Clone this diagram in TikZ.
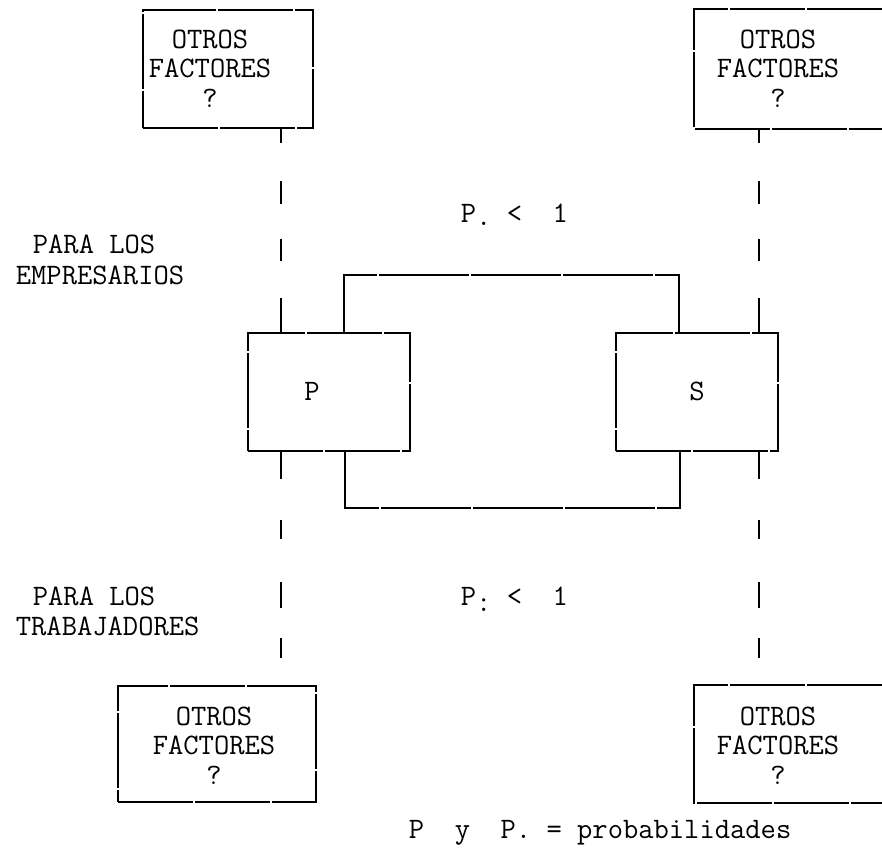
\documentclass[tikz,border=0pt]{standalone}
\usepackage{fontspec}
\begin{document}
\begin{tikzpicture}[x=1pt,y=-1pt,line width=1.8pt,
  txt/.style={font=\fontsize{29.7}{29.5}\selectfont\ttfamily,inner sep=0pt,align=center},
  lbl/.style={font=\fontsize{29.7}{29.5}\selectfont\ttfamily,inner sep=0pt},
  boxstyle/.style={draw,dash pattern=on 75pt off 2pt,inner sep=0pt},
  openbox/.style={draw=none,inner sep=0pt},
  vtop/.style={dash pattern=on 14pt off 38pt on 23pt off 35pt on 22pt off 37pt on 40pt off 10pt},
  vbot/.style={dash pattern=on 27pt off 41pt on 19pt off 43pt on 26pt off 30pt on 20pt off 40pt}]
\useasboundingbox (0,0) rectangle (882,848);

% boxes
\node[boxstyle,minimum width=170pt,minimum height=118pt] (tl) at (228,69) {};
\node[openbox,minimum width=186pt,minimum height=118pt] (tr) at (788,69) {};
\draw[dash pattern=on 75pt off 2pt] (tr.north east) -- (tr.north west) -- (tr.south west) -- (tr.south east);
\node[boxstyle,minimum width=198pt,minimum height=116pt] (bl) at (217,744) {};
\node[openbox,minimum width=186pt,minimum height=116pt] (br) at (788,744) {};
\draw[dash pattern=on 75pt off 2pt] (br.north east) -- (br.north west) -- (br.south west) -- (br.south east);
\node[boxstyle,minimum width=162pt,minimum height=118pt] (P) at (329,392) {};
\node[boxstyle,minimum width=162pt,minimum height=118pt] (S) at (697,392) {};

% vertical dashed lines
\coordinate (xl) at (281,0);
\coordinate (xr) at (759,0);
\draw[vtop] (tl.south -| xl) -- (P.north -| xl);
\draw[vbot] (P.south -| xl) -- (bl.north -| xl);
\draw[vtop] (tr.south -| xr) -- (S.north -| xr);
\draw[vbot] (S.south -| xr) -- (br.north -| xr);

% loops between P and S
\coordinate (ua) at (344,275);
\coordinate (ub) at (679,275);
\coordinate (la) at (345,508);
\coordinate (lb) at (680,508);
\draw[dash pattern=on 90pt off 2pt] (P.north -| ua) -- (ua) -- (ub) -- (S.north -| ub);
\draw[dash pattern=on 90pt off 2pt] (P.south -| la) -- (la) -- (lb) -- (S.south -| lb);

% texts
\node[txt] (t1) at (210,68.5) {OTROS\\FACTORES\\?};
\node[txt] (t2) at (778,68.5) {OTROS\\FACTORES\\?};
\node[txt] (t3) at (214,745.5) {OTROS\\FACTORES\\?};
\node[txt] (t4) at (778,745.5) {OTROS\\FACTORES\\?};
\node[lbl,anchor=base] (pl) at (312,400) {P};
\node[lbl,anchor=base] (sl) at (697,400) {S};
\node[lbl,anchor=base west] (e1) at (32,253) {PARA LOS};
\node[lbl,anchor=base west] (e2) at (15,284) {EMPRESARIOS};
\node[lbl,anchor=base west] (w1) at (32,605) {PARA LOS};
\node[lbl,anchor=base west] (w2) at (15,635) {TRABAJADORES};
\node[lbl,anchor=base west] (pu) at (460,222) {P\raisebox{-3pt}{.}~<~~1};
\node[lbl,anchor=base west] (pd) at (460,605) {P\raisebox{-6pt}{:}~<~~1};
\node[lbl,anchor=base west] (leg) at (408,838) {P~~y~~P.~=~probabilidades};
\end{tikzpicture}
\end{document}
